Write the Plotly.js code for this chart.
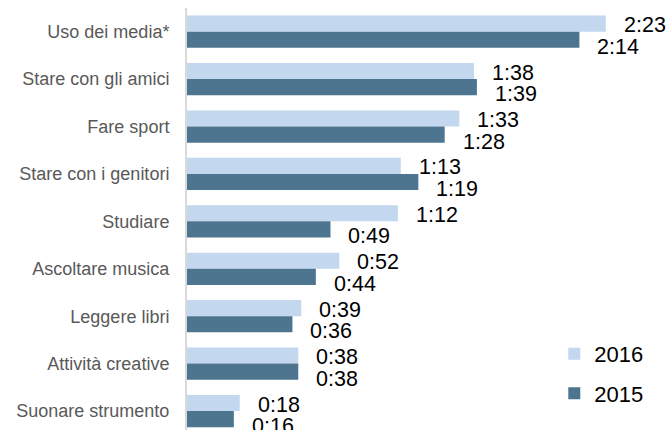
<!DOCTYPE html>
<html>
<head>
<meta charset="utf-8">
<script src="https://cdn.plot.ly/plotly-3.0.1.min.js"></script>
<style>
  html, body { margin: 0; padding: 0; background: #ffffff; }
  #chart { width: 669px; height: 430px; }
</style>
</head>
<body>
<div id="chart"></div>
<script>
// ---- data (minutes per day) ----
const categories = ["Uso dei media*", "Stare con gli amici", "Fare sport", "Stare con i genitori", "Studiare", "Ascoltare musica", "Leggere libri", "Attività creative", "Suonare strumento"];
const minutes2016 = [143, 98, 93, 73, 72, 52, 39, 38, 18];
const minutes2015 = [134, 99, 88, 79, 49, 44, 36, 38, 16];
const seriesNames = ["2016", "2015"];

// ---- styles ----
const colors = ["#c3d7ee", "#4e7590"];
const fontFamily = "'Liberation Sans', Arial, sans-serif";

function fmt(m) {
  return Math.floor(m / 60) + ":" + String(m % 60).padStart(2, "0");
}

const seriesValues = [minutes2016, minutes2015];

const traces = seriesValues.map((vals, s) => ({
  type: "bar",
  orientation: "h",
  name: seriesNames[s],
  legendgroup: "g" + s,
  x: vals,
  y: categories,
  marker: { color: colors[s], line: { width: 0 } },
  hovertemplate: "%{y}: " + "%{x}<extra>" + seriesNames[s] + "</extra>"
}));

const yShifts = [6.5, -15];
const annotations = [];
seriesValues.forEach((vals, s) => {
  vals.forEach((v, i) => {
    annotations.push({
      x: v, y: categories[i], xref: "x", yref: "y",
      text: fmt(v), showarrow: false,
      xanchor: "left", yanchor: "middle",
      xshift: 16, yshift: yShifts[s],
      font: { family: fontFamily, size: 21.5, color: "#000000" }
    });
  });
});

const layout = {
  width: 669, height: 430,
  margin: { l: 187, r: 0, t: 8, b: 0, pad: 0 },
  paper_bgcolor: "#ffffff", plot_bgcolor: "#ffffff",
  barmode: "group", bargap: 0.32, bargroupgap: 0,
  font: { family: fontFamily },
  showlegend: true,
  legend: {
    x: 0.762, y: 0.23, xanchor: "left", yanchor: "top",
    traceorder: "grouped", tracegroupgap: 8,
    font: { family: fontFamily, size: 22, color: "#000000" },
    bgcolor: "rgba(0,0,0,0)"
  },
  xaxis: {
    range: [0, 164.6], showgrid: false, zeroline: false,
    showticklabels: false, ticks: "", showline: false, fixedrange: true
  },
  yaxis: {
    type: "category", range: [8.4, -0.5],
    showgrid: false, zeroline: false, ticks: "",
    showline: true, linecolor: "#d9d9d9", linewidth: 2,
    ticklabelstandoff: 12,
    tickfont: { family: fontFamily, size: 18, color: "#595959" },
    fixedrange: true
  },
  annotations: annotations
};

Plotly.newPlot("chart", traces, layout, { staticPlot: true, displayModeBar: false });
</script>
</body>
</html>
